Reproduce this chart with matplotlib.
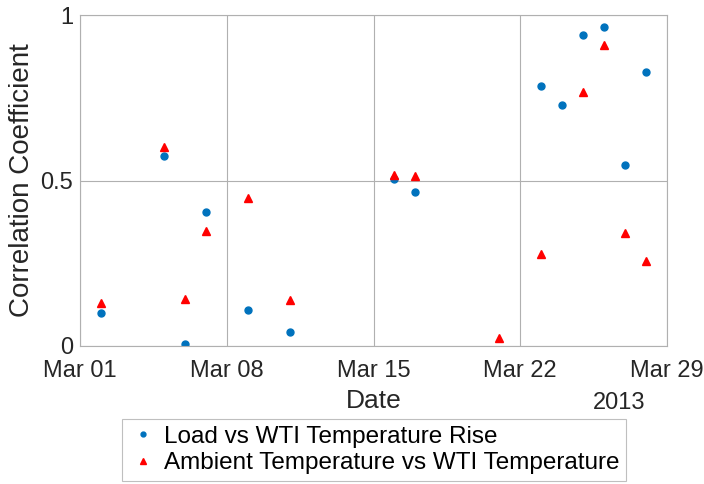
import matplotlib
matplotlib.use("Agg")
import matplotlib.pyplot as plt
import matplotlib.dates as mdates
import numpy as np
from datetime import datetime

plt.rcParams['font.family'] = ['Liberation Sans', 'DejaVu Sans']

# correlation per day, March 2013
load_days = [2, 5, 6, 7, 9, 11, 16, 17, 23, 24, 25, 26, 27, 28]
load_corr = [0.100, 0.573, 0.006, 0.406, 0.109, 0.042, 0.506, 0.464,
             0.785, 0.727, 0.939, 0.964, 0.548, 0.827]

amb_days = [2, 5, 6, 7, 9, 11, 16, 17, 21, 23, 25, 26, 27, 28]
amb_corr = [0.130, 0.600, 0.142, 0.348, 0.448, 0.139, 0.518, 0.515,
            0.024, 0.279, 0.767, 0.909, 0.342, 0.258]

tick_days = [1, 8, 15, 22, 29]

load_dates = [datetime(2013, 3, d) for d in load_days]
amb_dates = [datetime(2013, 3, d) for d in amb_days]

fig = plt.figure(figsize=(7.04, 4.84), dpi=100)
ax = fig.add_axes([80/704, 1 - 346/484, 587/704, 331/484])

ax.plot(load_dates, load_corr, linestyle='none', marker='o', markersize=5,
        color='#0072BD', label='Load vs WTI Temperature Rise')
ax.plot(amb_dates, amb_corr, linestyle='none', marker='^', markersize=6,
        color='red', label='Ambient Temperature vs WTI Temperature')

ax.set_xlim(datetime(2013, 3, 1), datetime(2013, 3, 29))
ax.set_ylim(0, 1)
ax.set_xticks([datetime(2013, 3, d) for d in tick_days])
ax.xaxis.set_major_formatter(mdates.DateFormatter('%b %d'))
ax.set_yticks([0, 0.5, 1])
ax.set_yticklabels(['0', '0.5', '1'])
ax.tick_params(length=0, labelsize=17, colors='#262626')
ax.tick_params(axis='x', pad=10)
ax.tick_params(axis='y', pad=5)
ax.grid(True, color='#b0b0b0', linewidth=0.8)
for s in ax.spines.values():
    s.set_color('#b0b0b0')

ax.set_xlabel('Date', fontsize=19, color='#262626')
ax.xaxis.set_label_coords(0.5, -0.13)
ax.set_ylabel('Correlation Coefficient', fontsize=20, color='#262626')
ax.yaxis.set_label_coords(-0.077, 0.5)
fig.text(619/704, 1 - 403/484, '2013', ha='center', va='center',
         fontsize=17, color='#262626')

leg = fig.legend(loc='center', bbox_to_anchor=(374/704, 1 - 450/484), fontsize=17.5,
                 frameon=True, fancybox=False, edgecolor='#b0b0b0', markerscale=0.7,
                 handletextpad=0.3, handlelength=1.2, borderpad=0.25, labelspacing=0.2)
leg.get_frame().set_linewidth(0.8)

fig.savefig('out.png', dpi=100)
